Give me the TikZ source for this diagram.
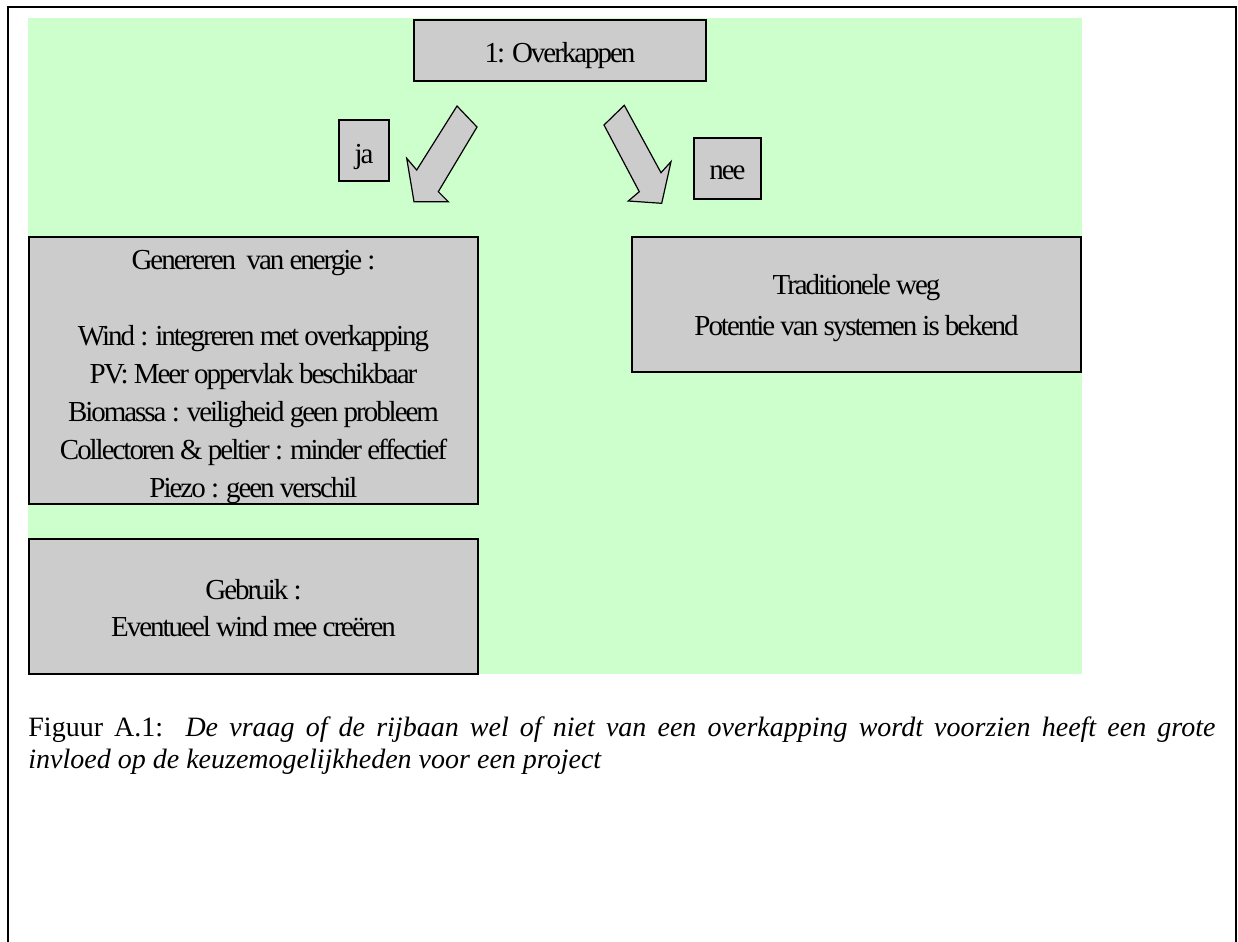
\documentclass[tikz,border=0pt]{standalone}
\usepackage{fontspec}
\setmainfont{Liberation Serif}
\newfontfamily\boxfont{Liberation Serif}[LetterSpace=-7]
\definecolor{bggreen}{HTML}{CCFFCC}
\definecolor{boxgray}{HTML}{CCCCCC}
\begin{document}
\begin{tikzpicture}[x=0.5pt,y=-0.5pt,
  gbox/.style={draw=black, line width=0.6pt, fill=boxgray, inner sep=0pt},
  btext/.style={inner sep=0pt, align=center,
    font=\boxfont\fontsize{14.5pt}{19pt}\selectfont},
  barrow/.style={draw=black, line width=0.6pt, fill=boxgray, line join=miter}]
\useasboundingbox (0,0) rectangle (1238,942);
% background
\fill[bggreen] (28,18) rectangle (1082,674);
% frame
\draw[line width=0.8pt] (8,950) -- (8,7) -- (1236,7) -- (1236,950);
% boxes
\node[gbox, minimum width=146pt, minimum height=30.5pt] (top) at (560,50.5) {};
\node[gbox, minimum width=25pt, minimum height=30.5pt] (ja) at (364,150.5) {};
\node[gbox, minimum width=33.5pt, minimum height=30.5pt] (nee) at (727.5,168.5) {};
\node[gbox, minimum width=224.5pt, minimum height=133.5pt] (gen) at (253.5,370.5) {};
\node[gbox, minimum width=224.5pt, minimum height=67.5pt] (trad) at (856.5,304.5) {};
\node[gbox, minimum width=224.5pt, minimum height=67.5pt] (geb) at (253.5,606.5) {};
% box texts
\node[btext] (topT) at ([yshift=-2.5pt]top.center) {1: Overkappen};
\node[btext] (jaT) at ([yshift=-3pt]ja.center) {ja};
\node[btext] (neeT) at ([yshift=-2pt]nee.center) {nee};
\node[btext] (genT) at ([yshift=-3.5pt]gen.center)
  {Genereren\ \ van energie :\\[19pt]
   Wind : integreren met overkapping\\
   PV: Meer oppervlak beschikbaar\\
   Biomassa : veiligheid geen probleem\\
   Collectoren \& peltier : minder effectief\\
   Piezo : geen verschil};
\node[btext, font=\boxfont\fontsize{14.5pt}{20.5pt}\selectfont] (tradT) at ([yshift=-2pt]trad.center)
  {Traditionele weg\\Potentie van systemen is bekend};
\node[btext, font=\boxfont\fontsize{14.5pt}{18.5pt}\selectfont] (gebT) at ([yshift=-1pt]geb.center)
  {Gebruik :\\Eventueel wind mee creëren};
% block arrows
\draw[barrow] (457,106) -- (477,127) -- (438.3,191.7) -- (448.3,201.7)
  -- (414,201.7) -- (406.7,158.3) -- (416.7,170) -- cycle;
\draw[barrow] (604,125) -- (624.3,105.3) -- (661,172.7) -- (671,161.7)
  -- (661.7,203.3) -- (628.3,201) -- (639.3,191.7) -- cycle;
% caption
\node[anchor=base west, inner sep=0pt, font=\fontsize{14pt}{16pt}\selectfont] (cap) at (28,736)
  {\parbox[t]{593.5pt}{Figuur A.1:\ \ \textit{De vraag of de rijbaan wel of niet van een overkapping wordt voorzien heeft een grote\linebreak invloed op de keuzemogelijkheden voor een project}}};
\end{tikzpicture}
\end{document}
